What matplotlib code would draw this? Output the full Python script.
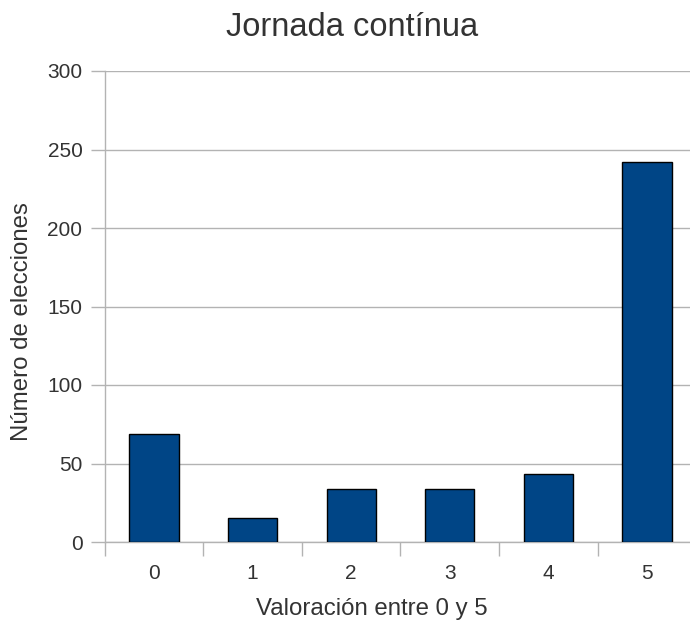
import matplotlib
matplotlib.use("Agg")
import matplotlib.pyplot as plt

categories = ["0", "1", "2", "3", "4", "5"]
values = [69, 15, 34, 34, 43, 242]
yticks = [0, 50, 100, 150, 200, 250, 300]

plt.rcParams['font.family'] = ['Liberation Sans', 'DejaVu Sans']
txt = '#333333'
grid = '#b3b3b3'

fig = plt.figure(figsize=(6.9, 6.24), dpi=100)
ax = fig.add_axes([104.7/690, 82/624, (696.3-104.7)/690, 471/624])
x = list(range(len(categories)))
ax.bar(x, values, width=0.5, color='#004586', edgecolor='black', linewidth=1, zorder=3)
ax.set_xlim(-0.5, 5.5)
ax.set_ylim(0, 300)
ax.set_yticks(yticks)
ax.set_yticklabels([str(v) for v in yticks])
ax.set_xticks([i - 0.5 for i in range(7)])
ax.set_xticklabels([])
ax.set_xticks(x, minor=True)
ax.set_xticklabels(categories, minor=True)
ax.tick_params(axis='x', which='minor', length=0, pad=16, labelsize=15, labelcolor=txt)
ax.tick_params(axis='x', which='major', length=10, width=1, color=grid, direction='out')
ax.tick_params(axis='y', length=10, width=1, color=grid, direction='out', pad=6, labelsize=15, labelcolor=txt)
ax.yaxis.grid(True, color=grid, linewidth=1, zorder=0)
for s in ['top', 'right']:
    ax.spines[s].set_visible(False)
for s in ['left', 'bottom']:
    ax.spines[s].set_color(grid)
    ax.spines[s].set_linewidth(1)
ax.set_axisbelow(True)

fig.text(352/690, 1 - 28/624, "Jornada contínua", ha='center', va='center', fontsize=23.5, color=txt)
fig.text(372/690, 1 - 609/624, "Valoración entre 0 y 5", ha='center', va='center', fontsize=17.3, color=txt)
fig.text(22/690, 1 - 322/624, "Número de elecciones", ha='center', va='center', rotation=90, fontsize=17.3, color=txt)

fig.savefig("out.png", dpi=100)
